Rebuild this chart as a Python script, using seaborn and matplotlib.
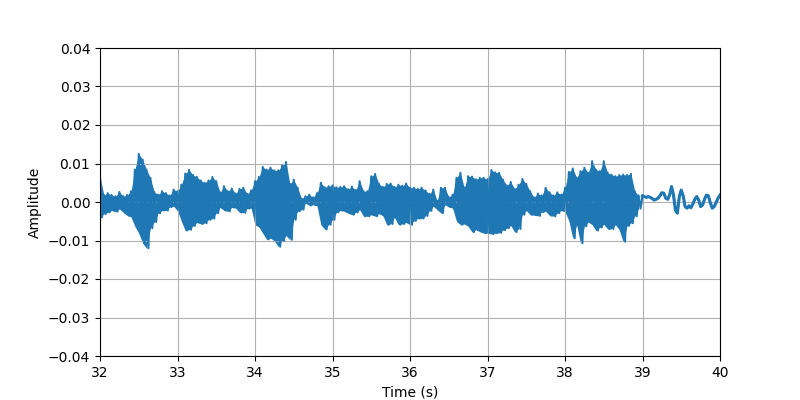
import numpy as np
import matplotlib
matplotlib.use("Agg")
import matplotlib.pyplot as plt
import seaborn as sns

# waveform envelope every 50 ms, 32.00 s .. 38.95 s
upper_env = [
    0.0065, 0.0018, 0.0023, 0.0018, 0.0015, 0.0026, 0.0015, 0.0018, 0.0028, 0.0084,
    0.0125, 0.0110, 0.0084, 0.0063, 0.0026, 0.0019, 0.0028, 0.0023, 0.0017, 0.0032,
    0.0028, 0.0045, 0.0074, 0.0083, 0.0070, 0.0065, 0.0056, 0.0050, 0.0056, 0.0065,
    0.0054, 0.0025, 0.0041, 0.0028, 0.0035, 0.0022, 0.0034, 0.0037, 0.0021, 0.0030,
    0.0054, 0.0065, 0.0091, 0.0084, 0.0089, 0.0082, 0.0082, 0.0095, 0.0104, 0.0047,
    0.0058, 0.0037, 0.0009, 0.0015, 0.0019, 0.0012, 0.0023, 0.0050, 0.0038, 0.0041,
    0.0043, 0.0038, 0.0039, 0.0041, 0.0033, 0.0040, 0.0031, 0.0054, 0.0028, 0.0028,
    0.0067, 0.0073, 0.0047, 0.0039, 0.0047, 0.0048, 0.0039, 0.0045, 0.0042, 0.0048,
    0.0037, 0.0037, 0.0034, 0.0037, 0.0030, 0.0021, 0.0032, 0.0003, 0.0037, 0.0037,
    0.0013, 0.0019, 0.0063, 0.0076, 0.0037, 0.0067, 0.0066, 0.0059, 0.0063, 0.0063,
    0.0059, 0.0083, 0.0077, 0.0076, 0.0058, 0.0043, 0.0052, 0.0034, 0.0045, 0.0060,
    0.0047, 0.0028, 0.0012, 0.0022, 0.0017, 0.0037, 0.0025, 0.0017, 0.0025, 0.0019,
    0.0037, 0.0078, 0.0087, 0.0063, 0.0080, 0.0089, 0.0076, 0.0106, 0.0084, 0.0080,
    0.0106, 0.0076, 0.0071, 0.0067, 0.0070, 0.0071, 0.0070, 0.0073, 0.0028, 0.0017,
]
lower_env = [
    -0.0040, -0.0031, -0.0027, -0.0022, -0.0025, -0.0018, -0.0027, -0.0035, -0.0039, -0.0063,
    -0.0081, -0.0107, -0.0120, -0.0068, -0.0052, -0.0029, -0.0022, -0.0022, -0.0013, -0.0011,
    -0.0023, -0.0050, -0.0074, -0.0072, -0.0062, -0.0053, -0.0057, -0.0055, -0.0046, -0.0043,
    -0.0029, -0.0014, -0.0022, -0.0024, -0.0014, -0.0016, -0.0027, -0.0028, -0.0017, -0.0016,
    -0.0059, -0.0065, -0.0081, -0.0097, -0.0094, -0.0101, -0.0116, -0.0101, -0.0087, -0.0098,
    -0.0046, -0.0024, -0.0020, -0.0003, -0.0009, -0.0007, -0.0010, -0.0059, -0.0071, -0.0059,
    -0.0046, -0.0027, -0.0022, -0.0024, -0.0029, -0.0033, -0.0027, -0.0020, -0.0037, -0.0037,
    -0.0033, -0.0037, -0.0030, -0.0036, -0.0059, -0.0057, -0.0040, -0.0059, -0.0057, -0.0053,
    -0.0059, -0.0049, -0.0043, -0.0043, -0.0036, -0.0023, -0.0011, -0.0020, -0.0029, -0.0007,
    -0.0013, -0.0016, -0.0050, -0.0059, -0.0057, -0.0063, -0.0078, -0.0072, -0.0077, -0.0081,
    -0.0081, -0.0083, -0.0081, -0.0080, -0.0073, -0.0068, -0.0061, -0.0078, -0.0070, -0.0033,
    -0.0022, -0.0033, -0.0034, -0.0036, -0.0026, -0.0024, -0.0035, -0.0037, -0.0029, -0.0022,
    -0.0025, -0.0049, -0.0094, -0.0059, -0.0107, -0.0063, -0.0052, -0.0059, -0.0074, -0.0066,
    -0.0058, -0.0070, -0.0070, -0.0059, -0.0072, -0.0103, -0.0062, -0.0055, -0.0037, -0.0017,
]
# quiet tail, read every 25 ms, 39.000 s .. 40.000 s
tail = [
    0.0016, 0.0014, 0.0012, 0.0014, 0.0012, 0.0009, 0.0005, 0.0007, 0.0010, 0.0016,
    0.0024, 0.0023, 0.0010, 0.0007, 0.0018, 0.0040, 0.0018, -0.0021, -0.0029, 0.0014,
    0.0031, 0.0016, -0.0012, -0.0016, -0.0010, -0.0015, -0.0005, 0.0007, 0.0014, 0.0005,
    -0.0012, -0.0008, 0.0007, 0.0018, 0.0016, -0.0002, -0.0016, -0.0012, -0.0001, 0.0010,
    0.0018,
]

color = '#1f77b4'
dense_time = np.linspace(32.0, 38.95, len(upper_env))
tail_time = np.linspace(39.0, 40.0, len(tail))

# zig-zag between the two envelopes, then the tail
zig_time = np.column_stack([dense_time, dense_time + 0.025]).ravel()
zig_amp = np.column_stack([upper_env, lower_env]).ravel()
time = np.concatenate([zig_time, tail_time])
amplitude = np.concatenate([zig_amp, tail])

fig, ax = plt.subplots(figsize=(8, 4), dpi=100)
ax.fill_between(dense_time, lower_env, upper_env, color=color, linewidth=0)
sns.lineplot(x=time, y=amplitude, estimator=None, sort=False,
             color=color, linewidth=1.5, ax=ax)
sns.lineplot(x=tail_time, y=tail, estimator=None, sort=False,
             color=color, linewidth=2.2, ax=ax)
ax.set_xlim(32, 40)
ax.set_ylim(-0.04, 0.04)
ax.set_xlabel('Time (s)')
ax.set_ylabel('Amplitude')
ax.grid(True)

plt.savefig('out.png')
